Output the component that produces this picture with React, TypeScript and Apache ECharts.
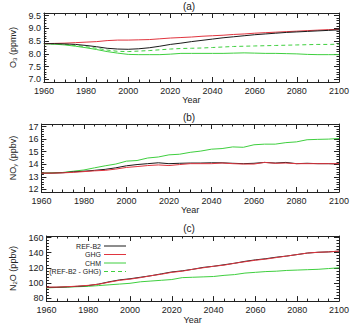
import React, { useEffect, useRef } from "react";
import * as echarts from "echarts";

const years = [1960,1965,1970,1975,1980,1985,1990,1995,2000,2005,2010,2015,2020,2025,2030,2035,2040,2045,2050,2055,2060,2065,2070,2075,2080,2085,2090,2095,2100];

// Panel (a) O3 (ppmv)
const o3Ref = [8.40,8.40,8.39,8.37,8.33,8.28,8.22,8.19,8.18,8.20,8.24,8.30,8.37,8.42,8.48,8.53,8.58,8.63,8.67,8.71,8.75,8.78,8.81,8.84,8.86,8.88,8.90,8.92,8.94];
const o3Ghg = [8.40,8.41,8.42,8.44,8.46,8.48,8.52,8.54,8.54,8.55,8.56,8.59,8.62,8.64,8.66,8.69,8.71,8.73,8.76,8.78,8.81,8.83,8.85,8.87,8.89,8.91,8.93,8.95,8.96];
const o3Chm = [8.40,8.38,8.35,8.30,8.24,8.17,8.09,8.03,7.98,7.97,7.97,7.97,7.99,8.02,8.02,8.02,8.02,8.02,8.03,8.04,8.03,8.02,8.02,8.01,8.00,7.98,7.97,7.97,7.97];
const o3Diff = [8.40,8.39,8.37,8.33,8.28,8.22,8.15,8.10,8.09,8.11,8.13,8.16,8.19,8.21,8.22,8.23,8.25,8.27,8.29,8.30,8.31,8.32,8.33,8.34,8.35,8.36,8.37,8.37,8.38];

// Panel (b) NOy (ppbv)
const noyRef = [13.30,13.30,13.33,13.40,13.45,13.52,13.60,13.72,13.88,13.98,14.05,14.12,14.05,14.08,14.10,14.10,14.12,14.12,14.08,14.05,14.08,14.15,14.10,14.15,14.05,14.08,14.05,14.05,14.02];
const noyGhg = [13.30,13.30,13.32,13.36,13.42,13.48,13.52,13.62,13.75,13.82,13.90,13.95,13.90,13.98,14.05,14.05,14.05,14.10,14.05,14.02,14.02,14.15,14.08,14.10,14.05,14.05,14.05,14.05,14.05];
const noyChm = [13.30,13.32,13.35,13.45,13.55,13.72,13.88,14.02,14.25,14.30,14.50,14.58,14.75,14.80,14.95,15.05,15.20,15.25,15.38,15.35,15.55,15.60,15.60,15.72,15.78,15.95,15.98,16.00,16.05];

// Panel (c) N2O (ppbv)
const n2oRef = [94.0,94.3,94.8,95.5,96.5,98.5,101.5,104.0,105.5,107.5,109.5,112.0,114.5,116.0,118.0,120.5,122.0,124.0,126.0,128.5,130.5,132.0,134.0,135.5,137.5,139.5,140.5,141.0,142.0];
const n2oGhg = [94.5,94.5,95.0,95.8,96.8,98.3,101.0,103.5,105.0,107.0,109.5,111.5,114.0,115.5,118.0,120.0,122.0,123.5,126.0,128.0,130.0,131.5,133.5,135.5,137.5,139.5,140.5,141.0,142.0];
const n2oChm = [93.5,94.0,94.5,95.0,95.5,96.5,97.5,98.5,99.5,101.5,102.5,103.5,104.5,107.0,107.5,108.0,108.5,110.0,111.0,113.0,114.0,115.0,115.5,116.5,117.0,117.5,118.0,119.0,120.0];

const o3Ticks = [7.0, 7.5, 8.0, 8.5, 9.0, 9.5];
const noyTicks = [12, 13, 14, 15, 16, 17];
const n2oTicks = [80, 100, 120, 140, 160];

const legendNames = ["REF-B2", "GHG", "CHM", "(REF-B2 - GHG)"];

const BLACK = "#1a1a1a";
const RED = "#e0353f";
const GREEN = "#3fcf3f";
const TXT = "#222";
const FONT = "Liberation Sans, Arial, sans-serif";

export default function App() {
  const ref = useRef<HTMLDivElement>(null);
  useEffect(() => {
    document.body.style.margin = "0";
    const chart = echarts.init(ref.current!, undefined, { renderer: "svg" });

    const grids = [
      { left: 35, right: 9, top: 13, height: 69 },
      { left: 35, right: 9, top: 124, height: 68 },
      { left: 35, right: 9, top: 236, height: 69 },
    ];
    const yConf = [
      { min: 6.9, max: 9.6, minor: 0.1, ticks: o3Ticks, fmt: (v: number) => v.toFixed(1), name: "{m|O}{s|3}{m| (ppmv)}" },
      { min: 11.8, max: 17.2, minor: 0.2, ticks: noyTicks, fmt: (v: number) => String(v), name: "{m|NO}{s|y}{m| (ppbv)}" },
      { min: 76, max: 162, minor: 4, ticks: n2oTicks, fmt: (v: number) => String(v), name: "{m|N}{s|2}{m|O (ppbv)}" },
    ];
    const lineStyle = { color: TXT, width: 1 };

    const xAxes: any[] = [];
    const yAxes: any[] = [];
    grids.forEach((_, i) => {
      ["bottom", "top"].forEach((pos) => {
        xAxes.push({
          gridIndex: i,
          type: "value",
          position: pos,
          min: 1960,
          max: 2100,
          interval: 20,
          axisLine: { show: true, onZero: false, lineStyle },
          axisTick: { show: true, inside: true, length: 5, lineStyle },
          minorTick: { show: true, splitNumber: 4, length: 2.5, lineStyle },
          axisLabel: {
            show: pos === "bottom",
            formatter: (v: number) => String(v),
            fontSize: 9,
            margin: 4,
            color: TXT,
            fontFamily: FONT,
          },
          splitLine: { show: false },
          minorSplitLine: { show: false },
          name: pos === "bottom" ? "Year" : "",
          nameLocation: "middle",
          nameGap: 12,
          nameTextStyle: { fontSize: 9, color: TXT, fontFamily: FONT },
        });
      });
      const c = yConf[i];
      ["left", "right"].forEach((pos) => {
        yAxes.push({
          gridIndex: i,
          type: "value",
          position: pos,
          min: c.min,
          max: c.max,
          axisLine: { show: true, onZero: false, lineStyle },
          axisTick: { show: true, inside: true, length: 5, lineStyle, customValues: c.ticks },
          axisLabel: {
            show: pos === "left",
            customValues: c.ticks,
            formatter: c.fmt,
            fontSize: 9,
            margin: 3,
            color: TXT,
            fontFamily: FONT,
          },
          splitLine: { show: false },
          name: pos === "left" ? c.name : "",
          nameLocation: "middle",
          nameRotate: 90,
          nameGap: 20,
          nameTextStyle: {
            color: TXT,
            fontFamily: FONT,
            rich: {
              m: { fontSize: 9, color: TXT, fontFamily: FONT },
              s: { fontSize: 6, color: TXT, fontFamily: FONT, verticalAlign: "bottom", padding: [4, 0, 0, 0] },
            },
          },
        });
        yAxes.push({
          gridIndex: i,
          type: "value",
          position: pos,
          min: c.min,
          max: c.max,
          interval: c.minor,
          axisLine: { show: false, onZero: false },
          axisTick: { show: true, inside: true, length: 2.5, lineStyle },
          axisLabel: { show: false },
          splitLine: { show: false },
        });
      });
    });

    const mk = (arr: number[]) => years.map((y, k) => [y, arr[k]]);
    const line = (name: string, data: number[], g: number, color: string, dashed = false, z = 2) => ({
      type: "line",
      name,
      xAxisIndex: g * 2,
      yAxisIndex: g * 4,
      data: mk(data),
      showSymbol: false,
      symbol: "none",
      lineStyle: { color, width: 1, type: dashed ? [4, 3] : "solid" },
      z,
    });

    const series = [
      line(legendNames[2], o3Chm, 0, GREEN),
      line(legendNames[3], o3Diff, 0, GREEN, true),
      line(legendNames[1], o3Ghg, 0, RED),
      line(legendNames[0], o3Ref, 0, BLACK, false, 3),
      line(legendNames[2], noyChm, 1, GREEN),
      line(legendNames[0], noyRef, 1, BLACK),
      line(legendNames[1], noyGhg, 1, RED, false, 3),
      line(legendNames[2], n2oChm, 2, GREEN),
      line(legendNames[0], n2oRef, 2, BLACK),
      line(legendNames[1], n2oGhg, 2, RED, false, 3),
    ];

    const titles = ["(a)", "(b)", "(c)"];
    const titleY = [6, 117, 228];
    const legendColors = [BLACK, RED, GREEN, GREEN];
    const legendY = [246, 254.5, 263, 271.5];

    const graphic: any[] = [];
    titles.forEach((t, i) =>
      graphic.push({
        type: "text",
        x: 189,
        y: titleY[i],
        style: { text: t, fontSize: 10, fill: TXT, fontFamily: FONT, align: "center", verticalAlign: "middle" },
      })
    );
    legendNames.forEach((n, i) => {
      graphic.push({
        type: "text",
        x: 101,
        y: legendY[i],
        style: { text: n, fontSize: 7, fill: TXT, fontFamily: FONT, align: "right", verticalAlign: "middle" },
      });
      graphic.push({
        type: "line",
        shape: { x1: 104, y1: legendY[i], x2: 126, y2: legendY[i] },
        style: { stroke: legendColors[i], lineWidth: 1, lineDash: i === 3 ? [4, 3] : null },
      });
    });

    chart.setOption({
      animation: false,
      backgroundColor: "#fff",
      grid: grids,
      xAxis: xAxes,
      yAxis: yAxes,
      series,
      graphic,
    });
    return () => chart.dispose();
  }, []);
  return <div ref={ref} style={{ width: 352, height: 325 }} />;
}
